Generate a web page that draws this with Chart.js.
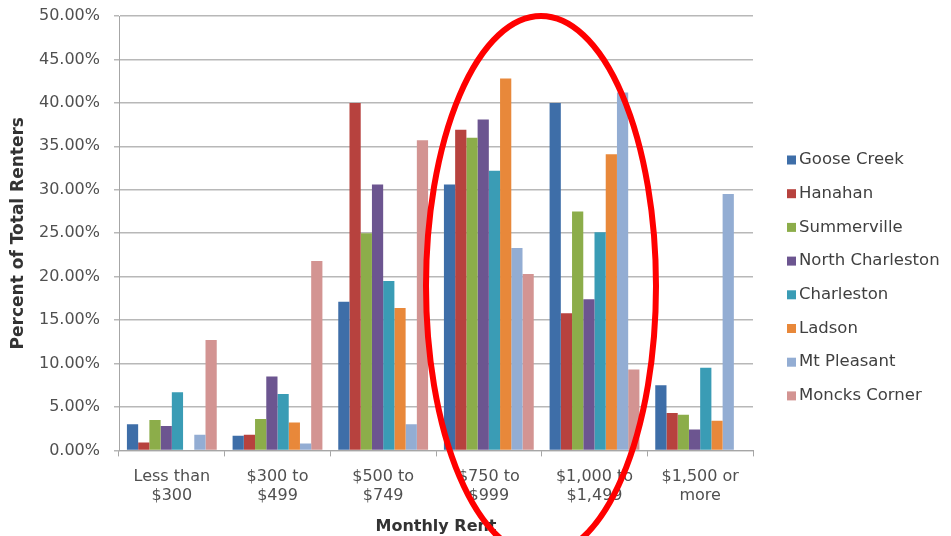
<!DOCTYPE html>
<html lang="en">
<head>
<meta charset="UTF-8">
<title>Monthly Rent</title>
<script src="https://cdn.jsdelivr.net/npm/chart.js"></script>
<style>
  body { margin: 0; background: #fff; }
</style>
</head>
<body>
<canvas id="rentChart" width="951" height="536"></canvas>
<script>
// categorías del eje x (dos líneas cada una)
const categories = [
  ['Less than', '$300'],
  ['$300 to', '$499'],
  ['$500 to', '$749'],
  ['$750 to', '$999'],
  ['$1,000 to', '$1,499'],
  ['$1,500 or', 'more']
];

// porcentaje de inquilinos por ciudad
const gooseCreek      = [3.0, 1.7, 17.1, 30.6, 40.0, 7.5];
const hanahan         = [0.9, 1.8, 40.0, 36.9, 15.8, 4.3];
const summerville     = [3.5, 3.6, 25.0, 36.0, 27.5, 4.1];
const northCharleston = [2.8, 8.5, 30.6, 38.1, 17.4, 2.4];
const charleston      = [6.7, 6.5, 19.5, 32.2, 25.1, 9.5];
const ladson          = [0.0, 3.2, 16.4, 42.8, 34.1, 3.4];
const mtPleasant      = [1.8, 0.8, 3.0, 23.3, 41.2, 29.5];
const moncksCorner    = [12.7, 21.8, 35.7, 20.3, 9.3, 0.0];

const yTicks = [0, 5, 10, 15, 20, 25, 30, 35, 40, 45, 50];

const font = "'DejaVu Sans', sans-serif";

// leyenda a la derecha, dibujada a mano para dejar el hueco como en el original
const legendPlugin = {
  id: 'sideLegend',
  afterDraw(chart) {
    const ctx = chart.ctx;
    ctx.save();
    ctx.font = '16.5px ' + font;
    ctx.textBaseline = 'middle';
    chart.data.datasets.forEach((ds, i) => {
      const y = 160 + i * 33.7;
      ctx.fillStyle = ds.backgroundColor;
      ctx.fillRect(787, y - 4.5, 9, 9);
      ctx.fillStyle = '#404040';
      ctx.fillText(ds.label, 799, y);
    });
    ctx.restore();
  }
};

// el óvalo rojo dibujado encima del gráfico
const ovalPlugin = {
  id: 'oval',
  afterDraw(chart) {
    const ctx = chart.ctx;
    ctx.save();
    ctx.strokeStyle = '#ff0000';
    ctx.lineWidth = 6;
    ctx.beginPath();
    ctx.ellipse(541, 286, 115, 270, 0, 0, Math.PI * 2);
    ctx.stroke();
    ctx.restore();
  }
};

const ctx = document.getElementById('rentChart').getContext('2d');
const rentChart = new Chart(ctx, {
  type: 'bar',
  data: {
    labels: categories,
    datasets: [
      { label: 'Goose Creek', data: gooseCreek, backgroundColor: '#3e6ea8' },
      { label: 'Hanahan', data: hanahan, backgroundColor: '#b7423e' },
      { label: 'Summerville', data: summerville, backgroundColor: '#8cad4a' },
      { label: 'North Charleston', data: northCharleston, backgroundColor: '#6c5590' },
      { label: 'Charleston', data: charleston, backgroundColor: '#3a9cb5' },
      { label: 'Ladson', data: ladson, backgroundColor: '#e8883a' },
      { label: 'Mt Pleasant', data: mtPleasant, backgroundColor: '#93add3' },
      { label: 'Moncks Corner', data: moncksCorner, backgroundColor: '#d39492' }
    ]
  },
  options: {
    responsive: false,
    animation: false,
    categoryPercentage: 0.85,
    barPercentage: 1.0,
    layout: { padding: { top: 0, right: 198, bottom: 0, left: 0 } },
    scales: {
      x: {
        grid: { display: true, offset: true, drawOnChartArea: false, drawTicks: true, tickLength: 6, color: '#a6a6a6' },
        border: { color: '#a6a6a6' },
        ticks: { color: '#505050', font: { family: font, size: 16 }, padding: 11, maxRotation: 0 },
        title: { display: true, text: 'Monthly Rent', color: '#333', font: { family: font, size: 16, weight: 'bold' }, padding: { top: 0, bottom: 0 } }
      },
      y: {
        min: 0,
        max: 50,
        afterBuildTicks(axis) { axis.ticks = yTicks.map(v => ({ value: v })); },
        afterFit(axis) {
          axis.width = 119;
          axis.paddingTop = 16;
          axis.paddingBottom = 0;
        },
        grid: { color: '#b8b8b8', lineWidth: 1.5, tickLength: 5 },
        border: { color: '#a6a6a6' },
        ticks: {
          color: '#505050',
          font: { family: font, size: 16 },
          padding: 14,
          callback: v => v.toFixed(2) + '%'
        },
        title: { display: true, text: 'Percent of Total Renters', color: '#333', font: { family: font, size: 17, weight: 'bold' }, padding: { top: 8, bottom: 4 } }
      }
    },
    plugins: {
      legend: { display: false },
      tooltip: { enabled: false }
    }
  },
  plugins: [legendPlugin, ovalPlugin]
});
</script>
</body>
</html>
